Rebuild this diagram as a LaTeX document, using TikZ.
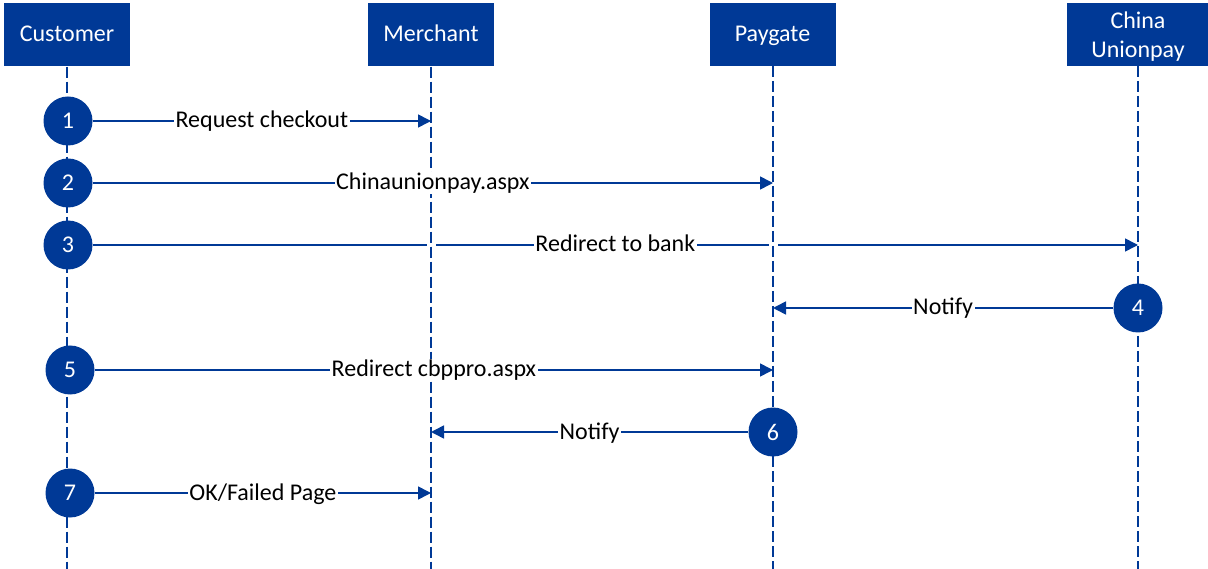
\documentclass[tikz,border=0pt]{standalone}
\usepackage{fontspec}
\setmainfont{Carlito}
\usetikzlibrary{arrows.meta}
\definecolor{ublue}{RGB}{0,57,150}
\pgfdeclarelayer{lines}
\pgfdeclarelayer{gaps}
\pgfdeclarelayer{life}
\pgfsetlayers{lines,gaps,life,main}
\begin{document}
\begin{tikzpicture}[x=1pt,y=-1pt,
  font=\fontsize{24}{29}\selectfont,
  actor/.style={fill=ublue, text=white, minimum height=63pt, inner sep=0pt, align=center},
  oneline/.style={text height=18pt, text depth=4pt},
  num/.style={circle, fill=ublue, text=white, minimum size=49pt, inner sep=0pt, font=\fontsize{24}{26}\selectfont},
  msg/.style={draw=ublue, line width=1.6pt, -{Triangle[length=13pt,width=13pt]}},
  anchorpt/.style={inner sep=0pt, minimum size=0pt, midway},
  lbl/.style={fill=white, text=black, inner xsep=1.5pt, inner ysep=0pt, oneline},
  lifeline/.style={draw=ublue, line width=1.5pt, dash pattern=on 11pt off 4pt},
  gapbox/.style={fill=white, minimum width=9pt, minimum height=6pt, inner sep=0pt}]
\useasboundingbox (0,0) rectangle (1208,569);
% actors
\node[actor, oneline, minimum width=126pt] (cust) at (67,35) {Customer};
\node[actor, oneline, minimum width=126pt] (merch) at (431,35) {Merchant};
\node[actor, oneline, minimum width=126pt] (pay) at (772.5,35) {Paygate};
\fill[ublue] (1067,3) rectangle (1208,66);
\node[text=white, align=center, inner sep=0pt] (cup) at (1138,36.5) {China\\Unionpay};
% bottom ends of lifelines
\coordinate (custend) at (67,569);
\coordinate (merchend) at (431,569);
\coordinate (payend) at (773,569);
\coordinate (cupend) at (1138,569);
% step circles
\node[num] (c1) at (68,121) {1};
\node[num] (c2) at (68,183) {2};
\node[num] (c3) at (68,245) {3};
\node[num] (c4) at (1138,308) {4};
\node[num] (c5) at (70,370) {5};
\node[num] (c6) at (773,432) {6};
\node[num] (c7) at (70,493) {7};
\begin{pgfonlayer}{life}
\draw[lifeline] (cust.south) -- (custend);
\draw[lifeline] (merch.south) -- (merchend);
\draw[lifeline] (773,66) -- (payend);
\draw[lifeline] (1138,66) -- (cupend);
\end{pgfonlayer}
\begin{pgfonlayer}{lines}
\draw[msg] (c1) -- (c1 -| merchend) node[anchorpt] (p1) {};
\draw[msg] (c2) -- (c2 -| payend) node[anchorpt] (p2) {};
\draw[msg] (c3) -- (c3 -| cupend) node[anchorpt] (p3) {};
\draw[msg] (c4) -- (c4 -| payend) node[anchorpt] (p4) {};
\draw[msg] (c5) -- (c5 -| payend) node[anchorpt] (p5) {};
\draw[msg] (c6) -- (c6 -| merchend) node[anchorpt] (p6) {};
\draw[msg] (c7) -- (c7 -| merchend) node[anchorpt] (p7) {};
\end{pgfonlayer}
\begin{pgfonlayer}{gaps}
\node[gapbox] (g1) at (c3 -| merchend) {};
\node[gapbox] (g2) at (c3 -| payend) {};
\end{pgfonlayer}
\node[lbl] (l1) at (p1) {Request checkout};
\node[lbl] (l2) at (p2) {Chinaunionpay.aspx};
\node[lbl] (l3) at (p3) {Redirect to bank};
\node[lbl] (l4) at (p4) {Notify};
\node[lbl] (l5) at (p5) {Redirect cbppro.aspx};
\node[lbl] (l6) at (p6) {Notify};
\node[lbl] (l7) at (p7) {OK/Failed Page};
\end{tikzpicture}
\end{document}
